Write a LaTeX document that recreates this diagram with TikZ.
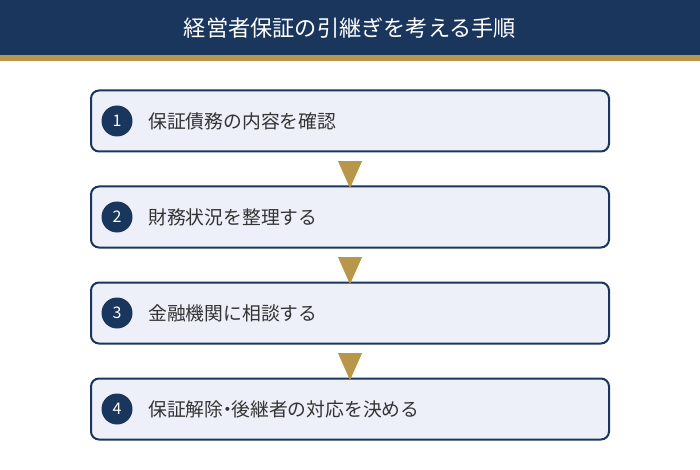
\documentclass[tikz,border=0pt]{standalone}
\usepackage{fontspec}
\setmainfont{Noto Sans CJK JP}
\usetikzlibrary{shapes.geometric}
\definecolor{navy}{HTML}{1A365D}
\definecolor{gold}{HTML}{B8964A}
\definecolor{boxfill}{HTML}{EDF0F8}
\definecolor{txt}{HTML}{333333}
\tikzset{
  stepbox/.style={draw=navy, line width=2pt, fill=boxfill, rounded corners=8pt, minimum width=518pt, minimum height=61pt, inner sep=0pt},
  numcirc/.style={circle, fill=navy, minimum size=31pt, inner sep=0pt, text=white, font=\fontsize{16pt}{16pt}\selectfont},
  steptext/.style={anchor=west, text=txt, font=\fontsize{18.8pt}{20pt}\selectfont, inner sep=0pt},
  downtri/.style={isosceles triangle, shape border rotate=-90, isosceles triangle apex angle=48, fill=gold, minimum width=24pt, minimum height=27pt, inner sep=0pt},
}
\begin{document}
\begin{tikzpicture}[x=1pt,y=-1pt]
\useasboundingbox (0,0) rectangle (700,470);
\fill[white] (0,0) rectangle (700,470);
\fill[navy] (0,0) rectangle (700,55);
\fill[gold] (0,55) rectangle (700,61);
\node[text=white, font=\fontsize{22.2pt}{24pt}\selectfont] (title) at (350,28) {経営者保証の引継ぎを考える手順};
\foreach \i/\y/\t in {1/121/保証債務の内容を確認, 2/217/財務状況を整理する, 3/313/金融機関に相談する, 4/409/{保証解除\makebox[8pt]{・}後継者の対応を決める}}{
  \node[stepbox] (box\i) at (350,\y) {};
  \node[numcirc] (num\i) at (117,\y) {\i};
  \node[steptext] (txt\i) at (148,\y) {\t};
}
\node[downtri] (tri1) at (350,169) {};
\node[downtri] (tri2) at (350,265) {};
\node[downtri] (tri3) at (350,361) {};
\end{tikzpicture}
\end{document}
